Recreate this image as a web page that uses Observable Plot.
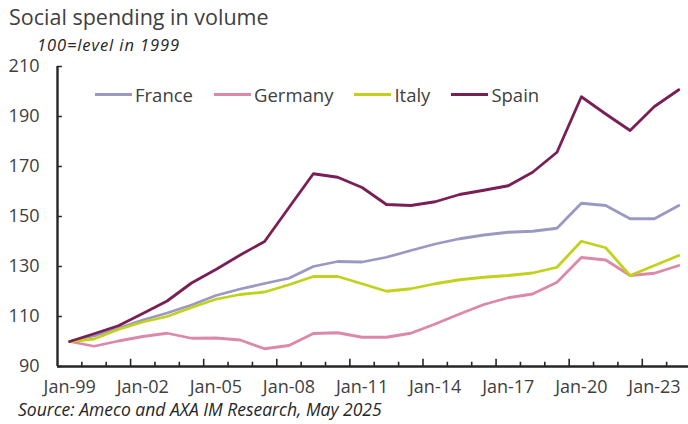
<!DOCTYPE html>
<html>
<head>
<meta charset="utf-8">
<script src="https://cdn.jsdelivr.net/npm/d3@7"></script>
<script src="https://cdn.jsdelivr.net/npm/@observablehq/plot@0.6"></script>
<style>
  html, body { margin: 0; padding: 0; background: #fff; }
  #wrap { position: relative; width: 688px; height: 424px; font-family: "Open Sans", sans-serif; color: #404040; overflow: hidden; }
  #title { position: absolute; left: 9px; top: 2px; font-size: 21.5px; color: #404040; white-space: nowrap; }
  #subtitle { position: absolute; left: 37px; top: 33px; font-size: 16.5px; letter-spacing: 0.9px; font-style: italic; color: #262626; white-space: nowrap; }
  #chart { position: absolute; left: 0; top: 50px; }
  #legend { position: absolute; left: 95px; top: 82px; display: flex; align-items: center; font-size: 18.5px; color: #404040; white-space: nowrap; }
  #legend .item { display: flex; align-items: center; margin-right: 21px; }
  #legend .sw { width: 37px; height: 3px; margin-right: 3px; }
  #caption { position: absolute; left: 18px; top: 397px; font-size: 17.5px; font-style: italic; color: #262626; white-space: nowrap; }
</style>
</head>
<body>
<div id="wrap">
  <div id="title"></div>
  <div id="subtitle"></div>
  <div id="chart"></div>
  <div id="legend"></div>
  <div id="caption"></div>
</div>
<script>
const titleText = "Social spending in volume";
const subtitleText = "100=level in 1999";
const captionText = "Source: Ameco and AXA IM Research, May 2025";

const years = [1999, 2000, 2001, 2002, 2003, 2004, 2005, 2006, 2007, 2008, 2009, 2010, 2011,
               2012, 2013, 2014, 2015, 2016, 2017, 2018, 2019, 2020, 2021, 2022, 2023, 2024];
const countries = ["France", "Germany", "Italy", "Spain"];
const colors = ["#9b99c3", "#dc88aa", "#c2d21c", "#7a1e56"];

const france  = [100, 102.2, 105.3, 108.6, 111.4, 114.6, 118.4, 121.0, 123.2, 125.3, 130.0, 132.0, 131.8,
                 133.7, 136.4, 139.0, 141.1, 142.6, 143.7, 144.1, 145.3, 155.3, 154.4, 149.1, 149.1, 154.4];
const germany = [100, 98.1, 100.2, 102.0, 103.3, 101.3, 101.4, 100.6, 97.1, 98.4, 103.2, 103.5, 101.7,
                 101.7, 103.3, 107.0, 111.0, 114.8, 117.5, 119.0, 123.7, 133.6, 132.6, 126.4, 127.3, 130.4];
const italy   = [100, 101.0, 104.8, 107.8, 110.0, 113.6, 116.9, 118.8, 119.8, 122.7, 126.0, 126.0, 123.1,
                 120.1, 121.1, 123.1, 124.7, 125.7, 126.4, 127.4, 129.7, 140.1, 137.5, 126.4, 130.4, 134.4];
const spain   = [100, 103.1, 106.3, 111.2, 116.2, 123.4, 128.8, 134.6, 140.0, 153.6, 167.1, 165.7, 161.6,
                 154.8, 154.4, 155.9, 158.8, 160.5, 162.3, 167.7, 175.7, 197.9, 191.0, 184.4, 194.0, 200.7];

const xTickYears = [1999, 2002, 2005, 2008, 2011, 2014, 2017, 2020, 2023];
const yTicks = [90, 110, 130, 150, 170, 190, 210];

const seriesValues = [france, germany, italy, spain];
const rows = [];
countries.forEach((c, i) => years.forEach((y, j) => rows.push({country: c, year: y, value: seriesValues[i][j]})));

// category boundaries (Excel-style ticks between categories)
const boundaries = years.slice(0, -1).map(y => y + 0.5);
const axisColor = "#262626";
const x0 = years[0] - 0.5;

const chart = Plot.plot({
  width: 688,
  height: 350,
  marginTop: 16,
  marginBottom: 34,
  marginLeft: 57,
  marginRight: 0,
  x: {type: "linear", label: null, domain: [years[0] - 0.5, years[years.length - 1] + 0.5], range: [57, 690.5]},
  y: {label: null, domain: [90, 210], range: [316, 16]},
  color: {domain: countries, range: colors},
  style: {fontFamily: "Open Sans, sans-serif", color: "#404040", overflow: "visible"},
  marks: [
    Plot.axisY({ticks: yTicks, label: null, tickSize: 0, tickPadding: 18, fontSize: 18, tickFormat: d => String(d)}),
    Plot.axisX({ticks: xTickYears, label: null, tickSize: 0, tickPadding: 14, fontSize: 18,
                tickFormat: d => "Jan-" + String(d % 100).padStart(2, "0")}),
    // y axis ticks pointing inward
    Plot.ruleY(yTicks, {y: d => d, x1: x0, x2: x0 + 0.2, stroke: axisColor, strokeWidth: 1.5}),
    // x axis ticks between categories, every third one taller
    Plot.ruleX(boundaries, {x: d => d, y1: 90, y2: (d, i) => (i % 3 === 2 ? 92.9 : 91.7), stroke: axisColor, strokeWidth: 1.6}),
    Plot.ruleX([x0], {y1: 90, y2: 210, stroke: axisColor, strokeWidth: 2.4}),
    Plot.ruleY([90], {stroke: axisColor, strokeWidth: 2.4}),
    Plot.line(rows, {x: "year", y: "value", z: "country", stroke: "country", strokeWidth: 2.8, strokeLinejoin: "round"})
  ]
});
document.getElementById("chart").appendChild(chart);

document.getElementById("title").textContent = titleText;
document.getElementById("subtitle").textContent = subtitleText;
document.getElementById("caption").textContent = captionText;
const legend = document.getElementById("legend");
countries.forEach((c, i) => {
  const item = document.createElement("div");
  item.className = "item";
  const sw = document.createElement("span");
  sw.className = "sw";
  sw.style.background = colors[i];
  const lab = document.createElement("span");
  lab.textContent = c;
  item.appendChild(sw);
  item.appendChild(lab);
  legend.appendChild(item);
});
</script>
</body>
</html>
